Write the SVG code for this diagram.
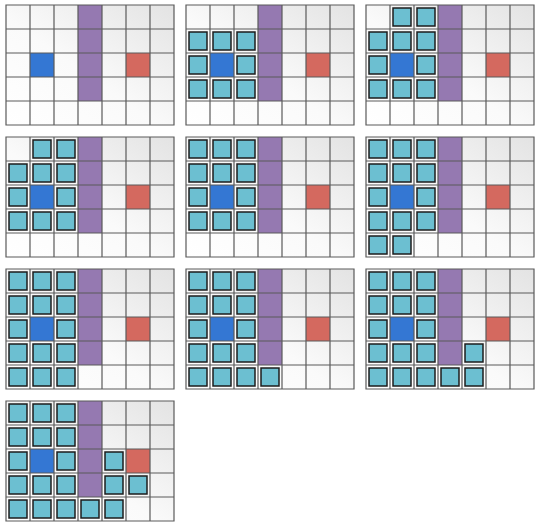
<svg xmlns="http://www.w3.org/2000/svg" xmlns:xlink="http://www.w3.org/1999/xlink" width="540" height="526" viewBox="0 0 540 526">
<style>
.bg{fill:url(#g)}
.grid{stroke:#5a5a5a;stroke-width:1.2;fill:none}
.c{fill:#6cbfd1;stroke:#1c1c1c;stroke-width:1.5}
</style>
<defs>
<linearGradient id="g" x1="0" y1="1" x2="1" y2="0">
<stop offset="0" stop-color="#ffffff"/>
<stop offset="0.45" stop-color="#fafafa"/>
<stop offset="1" stop-color="#e3e3e3"/>
</linearGradient>
<g id="base">
<rect class="bg" x="0" y="0" width="168" height="120"/>
<rect x="72" y="0" width="24" height="96" fill="#9579b1"/>
<rect x="24" y="48" width="24" height="24" fill="#3477d3"/>
<rect x="120" y="48" width="24" height="24" fill="#d4695f"/>
<path class="grid" d="M0 0H168V120H0Z M24 0V120 M48 0V120 M72 0V120 M96 0V120 M120 0V120 M144 0V120 M0 24H168 M0 48H168 M0 72H168 M0 96H168"/>
</g>
</defs>
<g id="panel1" transform="translate(6,5)">
<use xlink:href="#base"/>
</g>
<g id="panel2" transform="translate(186,5)">
<use xlink:href="#base"/>
<rect class="c" x="3" y="27" width="18" height="18"/><rect class="c" x="27" y="27" width="18" height="18"/><rect class="c" x="51" y="27" width="18" height="18"/>
<rect class="c" x="3" y="51" width="18" height="18"/><rect class="c" x="51" y="51" width="18" height="18"/>
<rect class="c" x="3" y="75" width="18" height="18"/><rect class="c" x="27" y="75" width="18" height="18"/><rect class="c" x="51" y="75" width="18" height="18"/>
</g>
<g id="panel3" transform="translate(366,5)">
<use xlink:href="#base"/>
<rect class="c" x="27" y="3" width="18" height="18"/><rect class="c" x="51" y="3" width="18" height="18"/>
<rect class="c" x="3" y="27" width="18" height="18"/><rect class="c" x="27" y="27" width="18" height="18"/><rect class="c" x="51" y="27" width="18" height="18"/>
<rect class="c" x="3" y="51" width="18" height="18"/><rect class="c" x="51" y="51" width="18" height="18"/>
<rect class="c" x="3" y="75" width="18" height="18"/><rect class="c" x="27" y="75" width="18" height="18"/><rect class="c" x="51" y="75" width="18" height="18"/>
</g>
<g id="panel4" transform="translate(6,137)">
<use xlink:href="#base"/>
<rect class="c" x="27" y="3" width="18" height="18"/><rect class="c" x="51" y="3" width="18" height="18"/>
<rect class="c" x="3" y="27" width="18" height="18"/><rect class="c" x="27" y="27" width="18" height="18"/><rect class="c" x="51" y="27" width="18" height="18"/>
<rect class="c" x="3" y="51" width="18" height="18"/><rect class="c" x="51" y="51" width="18" height="18"/>
<rect class="c" x="3" y="75" width="18" height="18"/><rect class="c" x="27" y="75" width="18" height="18"/><rect class="c" x="51" y="75" width="18" height="18"/>
</g>
<g id="panel5" transform="translate(186,137)">
<use xlink:href="#base"/>
<rect class="c" x="3" y="3" width="18" height="18"/><rect class="c" x="27" y="3" width="18" height="18"/><rect class="c" x="51" y="3" width="18" height="18"/>
<rect class="c" x="3" y="27" width="18" height="18"/><rect class="c" x="27" y="27" width="18" height="18"/><rect class="c" x="51" y="27" width="18" height="18"/>
<rect class="c" x="3" y="51" width="18" height="18"/><rect class="c" x="51" y="51" width="18" height="18"/>
<rect class="c" x="3" y="75" width="18" height="18"/><rect class="c" x="27" y="75" width="18" height="18"/><rect class="c" x="51" y="75" width="18" height="18"/>
</g>
<g id="panel6" transform="translate(366,137)">
<use xlink:href="#base"/>
<rect class="c" x="3" y="3" width="18" height="18"/><rect class="c" x="27" y="3" width="18" height="18"/><rect class="c" x="51" y="3" width="18" height="18"/>
<rect class="c" x="3" y="27" width="18" height="18"/><rect class="c" x="27" y="27" width="18" height="18"/><rect class="c" x="51" y="27" width="18" height="18"/>
<rect class="c" x="3" y="51" width="18" height="18"/><rect class="c" x="51" y="51" width="18" height="18"/>
<rect class="c" x="3" y="75" width="18" height="18"/><rect class="c" x="27" y="75" width="18" height="18"/><rect class="c" x="51" y="75" width="18" height="18"/>
<rect class="c" x="3" y="99" width="18" height="18"/><rect class="c" x="27" y="99" width="18" height="18"/>
</g>
<g id="panel7" transform="translate(6,269)">
<use xlink:href="#base"/>
<rect class="c" x="3" y="3" width="18" height="18"/><rect class="c" x="27" y="3" width="18" height="18"/><rect class="c" x="51" y="3" width="18" height="18"/>
<rect class="c" x="3" y="27" width="18" height="18"/><rect class="c" x="27" y="27" width="18" height="18"/><rect class="c" x="51" y="27" width="18" height="18"/>
<rect class="c" x="3" y="51" width="18" height="18"/><rect class="c" x="51" y="51" width="18" height="18"/>
<rect class="c" x="3" y="75" width="18" height="18"/><rect class="c" x="27" y="75" width="18" height="18"/><rect class="c" x="51" y="75" width="18" height="18"/>
<rect class="c" x="3" y="99" width="18" height="18"/><rect class="c" x="27" y="99" width="18" height="18"/><rect class="c" x="51" y="99" width="18" height="18"/>
</g>
<g id="panel8" transform="translate(186,269)">
<use xlink:href="#base"/>
<rect class="c" x="3" y="3" width="18" height="18"/><rect class="c" x="27" y="3" width="18" height="18"/><rect class="c" x="51" y="3" width="18" height="18"/>
<rect class="c" x="3" y="27" width="18" height="18"/><rect class="c" x="27" y="27" width="18" height="18"/><rect class="c" x="51" y="27" width="18" height="18"/>
<rect class="c" x="3" y="51" width="18" height="18"/><rect class="c" x="51" y="51" width="18" height="18"/>
<rect class="c" x="3" y="75" width="18" height="18"/><rect class="c" x="27" y="75" width="18" height="18"/><rect class="c" x="51" y="75" width="18" height="18"/>
<rect class="c" x="3" y="99" width="18" height="18"/><rect class="c" x="27" y="99" width="18" height="18"/><rect class="c" x="51" y="99" width="18" height="18"/><rect class="c" x="75" y="99" width="18" height="18"/>
</g>
<g id="panel9" transform="translate(366,269)">
<use xlink:href="#base"/>
<rect class="c" x="3" y="3" width="18" height="18"/><rect class="c" x="27" y="3" width="18" height="18"/><rect class="c" x="51" y="3" width="18" height="18"/>
<rect class="c" x="3" y="27" width="18" height="18"/><rect class="c" x="27" y="27" width="18" height="18"/><rect class="c" x="51" y="27" width="18" height="18"/>
<rect class="c" x="3" y="51" width="18" height="18"/><rect class="c" x="51" y="51" width="18" height="18"/>
<rect class="c" x="3" y="75" width="18" height="18"/><rect class="c" x="27" y="75" width="18" height="18"/><rect class="c" x="51" y="75" width="18" height="18"/><rect class="c" x="99" y="75" width="18" height="18"/>
<rect class="c" x="3" y="99" width="18" height="18"/><rect class="c" x="27" y="99" width="18" height="18"/><rect class="c" x="51" y="99" width="18" height="18"/><rect class="c" x="75" y="99" width="18" height="18"/><rect class="c" x="99" y="99" width="18" height="18"/>
</g>
<g id="panel10" transform="translate(6,401)">
<use xlink:href="#base"/>
<rect class="c" x="3" y="3" width="18" height="18"/><rect class="c" x="27" y="3" width="18" height="18"/><rect class="c" x="51" y="3" width="18" height="18"/>
<rect class="c" x="3" y="27" width="18" height="18"/><rect class="c" x="27" y="27" width="18" height="18"/><rect class="c" x="51" y="27" width="18" height="18"/>
<rect class="c" x="3" y="51" width="18" height="18"/><rect class="c" x="51" y="51" width="18" height="18"/><rect class="c" x="99" y="51" width="18" height="18"/>
<rect class="c" x="3" y="75" width="18" height="18"/><rect class="c" x="27" y="75" width="18" height="18"/><rect class="c" x="51" y="75" width="18" height="18"/><rect class="c" x="99" y="75" width="18" height="18"/><rect class="c" x="123" y="75" width="18" height="18"/>
<rect class="c" x="3" y="99" width="18" height="18"/><rect class="c" x="27" y="99" width="18" height="18"/><rect class="c" x="51" y="99" width="18" height="18"/><rect class="c" x="75" y="99" width="18" height="18"/><rect class="c" x="99" y="99" width="18" height="18"/>
</g>
<g id="connectors"/>
</svg>
